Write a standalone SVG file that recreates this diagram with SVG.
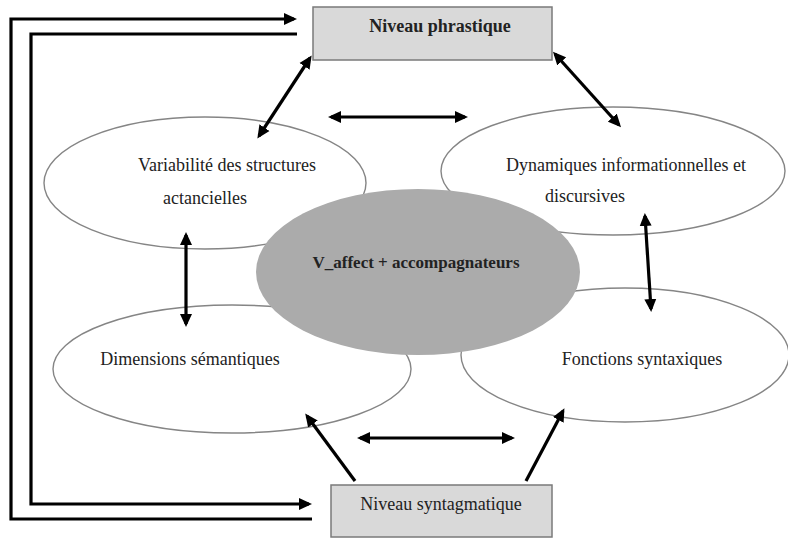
<svg xmlns="http://www.w3.org/2000/svg" width="788" height="540" viewBox="0 0 788 540">
<style>
.ell{fill:#ffffff;stroke:#858585;stroke-width:1.4}
.core{fill:#ababab;stroke:none}
.box{fill:#d9d9d9;stroke:#7a7a7a;stroke-width:1.5}
.t{font-family:"Liberation Serif","Times New Roman",serif;font-size:18px;fill:#222;text-anchor:middle}
.b{font-weight:bold}
.s17{font-size:17px}
.c{fill:none;stroke:#000;stroke-width:3.2}
</style>
<defs>
<marker id="ah" markerUnits="userSpaceOnUse" markerWidth="14" markerHeight="13" refX="10" refY="6" orient="auto-start-reverse" viewBox="0 0 14 12">
<path d="M0,0 L13,6 L0,12 z" fill="#000"/>
</marker>
</defs>
<rect width="788" height="540" fill="#fff"/>
<g id="n-variabilite">
<ellipse class="ell" cx="205" cy="183" rx="161" ry="66"/>
<text class="t" x="227" y="171">Variabilité des structures</text>
<text class="t" x="205" y="204">actancielles</text>
</g>
<g id="n-dynamiques">
<ellipse class="ell" cx="613" cy="171" rx="172" ry="64"/>
<text class="t" x="626" y="171">Dynamiques informationnelles et</text>
<text class="t" x="585" y="202">discursives</text>
</g>
<g id="n-dimensions">
<ellipse class="ell" cx="232" cy="369" rx="179" ry="64"/>
<text class="t" x="190" y="365">Dimensions sémantiques</text>
</g>
<g id="n-fonctions">
<ellipse class="ell" cx="625" cy="355" rx="164" ry="67"/>
<text class="t" x="642" y="365">Fonctions syntaxiques</text>
</g>
<g id="n-core">
<ellipse class="core" cx="418" cy="272" rx="162" ry="83"/>
<text class="t b s17" x="416" y="268">V_affect + accompagnateurs</text>
</g>
<g id="n-phrastique">
<rect class="box" x="313" y="7" width="239" height="53"/>
<text class="t b" x="440" y="32">Niveau phrastique</text>
</g>
<g id="n-syntagmatique">
<rect class="box" x="331" y="485" width="221" height="52"/>
<text class="t" x="441" y="510">Niveau syntagmatique</text>
</g>
<g id="connectors">
<line class="c" x1="310" y1="58" x2="259" y2="136" marker-start="url(#ah)" marker-end="url(#ah)"/>
<line class="c" x1="555" y1="54" x2="619" y2="125" marker-start="url(#ah)" marker-end="url(#ah)"/>
<line class="c" x1="331" y1="117" x2="465" y2="117" marker-start="url(#ah)" marker-end="url(#ah)"/>
<line class="c" x1="186" y1="235" x2="186" y2="324" marker-start="url(#ah)" marker-end="url(#ah)"/>
<line class="c" x1="645" y1="216" x2="651" y2="309" marker-start="url(#ah)" marker-end="url(#ah)"/>
<line class="c" x1="360" y1="438" x2="512" y2="438" marker-start="url(#ah)" marker-end="url(#ah)"/>
<line class="c" x1="355" y1="481" x2="307" y2="416" marker-end="url(#ah)"/>
<line class="c" x1="526" y1="481" x2="563" y2="411" marker-end="url(#ah)"/>
<path class="c" d="M312,519 L11,519 L11,19 L294,19" marker-end="url(#ah)"/>
<path class="c" d="M297,34 L31,34 L31,504 L309,504" marker-end="url(#ah)"/>
</g>
</svg>
